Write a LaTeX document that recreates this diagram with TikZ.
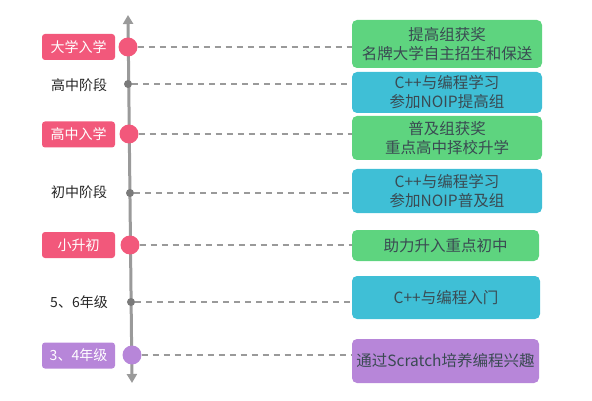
\documentclass[tikz,border=0pt]{standalone}
\usepackage{fontspec}
\newfontfamily\cjk{Noto Sans CJK SC}
\usetikzlibrary{arrows.meta}
\definecolor{pinkred}{HTML}{F2587B}
\definecolor{lightgreen}{HTML}{5ED47F}
\definecolor{skyblue}{HTML}{3FBFD6}
\definecolor{lilac}{HTML}{B786D9}
\definecolor{axisgray}{HTML}{9A9A9A}
\definecolor{dotgray}{HTML}{7A7A7A}
\definecolor{textdark}{HTML}{3A4A52}
\tikzset{
	stagebox/.style={fill=#1,rounded corners=3pt,text=white,minimum width=73pt,minimum height=26pt,inner sep=0pt,font=\cjk\fontsize{14}{16}\selectfont},
	stagetext/.style={text=black!85,inner sep=0pt,font=\cjk\fontsize{14}{16}\selectfont},
	goalbox/.style={fill=#1,rounded corners=5pt,text=textdark,inner sep=0pt,align=center,minimum width=190pt,font=\cjk\fontsize{15.5}{19}\selectfont},
	bigdot/.style={circle,fill=#1,minimum size=19pt,inner sep=0pt},
	smalldot/.style={circle,fill=dotgray,minimum size=8pt,inner sep=0pt},
}
\begin{document}
\begin{tikzpicture}[>={Triangle[length=9pt,width=10pt]},line join=round,x=1pt,y=-1pt]
	\useasboundingbox (0,0) rectangle (592,401);
	\path (128,15) coordinate (T)
	(132,383) coordinate (B)
	;
	\draw[<->,axisgray,line width=3pt] (B)--(T);
	
	% dots on the axis
	\node[bigdot=pinkred] (d1) at (128,47) {};
	\node[smalldot] (d2) at (128,84) {};
	\node[bigdot=pinkred] (d3) at (129,134) {};
	\node[smalldot] (d4) at (130,193) {};
	\node[bigdot=pinkred] (d5) at (130,245) {};
	\node[smalldot] (d6) at (131,302) {};
	\node[bigdot=lilac] (d7) at (132,355) {};
	
	% stages on the left
	\node[stagebox=pinkred] (s1) at (78.5,47) {大学入学};
	\node[stagetext] (s2) at (79,85) {高中阶段};
	\node[stagebox=pinkred] (s3) at (78.5,134.5) {高中入学};
	\node[stagetext] (s4) at (79,192) {初中阶段};
	\node[stagebox=pinkred] (s5) at (78.5,245) {小升初};
	\node[stagetext] (s6) at (79,302) {5、6年级};
	\node[stagebox=lilac] (s7) at (78.5,355.5) {3、4年级};
	
	% goals on the right
	\node[goalbox=lightgreen,minimum height=48pt] (g1) at (447,44) {提高组获奖\\名牌大学自主招生和保送};
	\node[goalbox=skyblue,minimum height=41pt] (g2) at (447,92.5) {C++与编程学习\\参加NOIP提高组};
	\node[goalbox=lightgreen,minimum height=44pt] (g3) at (447,138) {普及组获奖\\重点高中择校升学};
	\node[goalbox=skyblue,minimum height=44pt] (g4) at (447,191) {C++与编程学习\\参加NOIP普及组};
	\node[goalbox=lightgreen,minimum height=31pt,minimum width=187pt] (g5) at (445.5,245.5) {助力升入重点初中};
	\node[goalbox=skyblue,minimum height=43pt,minimum width=188pt] (g6) at (446,297.5) {C++与编程入门};
	\node[goalbox=lilac,minimum height=44pt,minimum width=187pt] (g7) at (445.5,361) {通过Scratch培养编程兴趣};
	
	\foreach \i in {1,...,7}
	\draw[axisgray,line width=1.2pt,dash pattern=on 6pt off 5pt] (d\i.east)--(d\i.east -| g\i.west);
\end{tikzpicture}
\end{document}
